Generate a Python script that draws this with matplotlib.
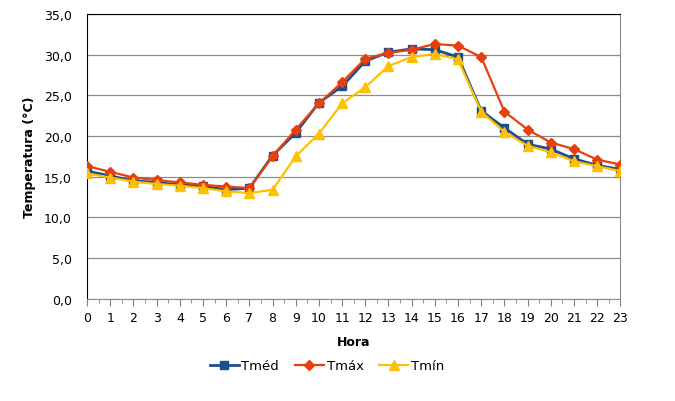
import matplotlib.pyplot as plt
import numpy as np

# hourly temperatures
horas = list(range(24))
tmed = [15.7, 15.1, 14.5, 14.3, 14.0, 13.85, 13.4, 13.6, 17.6, 20.4, 24.1, 26.1,
        29.2, 30.3, 30.7, 30.6, 29.7, 23.1, 21.0, 19.0, 18.4, 17.2, 16.4, 15.9]
tmax = [16.3, 15.6, 14.9, 14.6, 14.3, 14.0, 13.8, 13.6, 17.5, 20.8, 24.0, 26.6,
        29.5, 30.2, 30.6, 31.3, 31.1, 29.7, 23.0, 20.8, 19.2, 18.4, 17.1, 16.5]
tmin = [15.4, 14.9, 14.4, 14.1, 13.9, 13.6, 13.2, 13.0, 13.4, 17.5, 20.3, 24.0,
        26.0, 28.6, 29.7, 30.1, 29.4, 23.0, 20.5, 18.8, 18.0, 16.9, 16.3, 15.7]

plt.rcParams['font.family'] = ['DejaVu Sans']

fig = plt.figure(figsize=(6.75, 4.02), dpi=100)
ax = fig.add_axes([0.129, 0.254, 0.79, 0.709])

ax.plot(horas, tmed, color='#1F4E8C', marker='s', markersize=5.5, linewidth=2, label='Tméd', zorder=3)
ax.plot(horas, tmax, color='#E8400C', marker='D', markersize=5.5, linewidth=1.6, label='Tmáx', zorder=4)
ax.plot(horas, tmin, color='#FFC000', marker='^', markersize=6.5, linewidth=1.6, label='Tmín', zorder=5)

ax.set_xlim(0, 23)
ax.set_ylim(0, 35)
ax.set_yticks(np.arange(0, 36, 5))
ax.set_yticklabels([f'{v:.1f}'.replace('.', ',') for v in np.arange(0, 36, 5)], fontsize=9)
ax.set_xticks(horas)
ax.set_xticklabels([str(h) for h in horas], fontsize=9)
ax.set_xticks(np.arange(0.5, 23, 1), minor=True)
ax.tick_params(axis='x', which='major', length=5, color='#808080')
ax.tick_params(axis='x', which='minor', length=3, color='#808080')
ax.tick_params(axis='y', length=0, pad=11)
ax.grid(axis='y', color='#8C8C8C', linewidth=0.9)
ax.set_axisbelow(True)

for s in ['left', 'top']:
    ax.spines[s].set_color('black')
ax.spines['right'].set_color('#8C8C8C')
ax.spines['bottom'].set_color('#8C8C8C')

ax.set_xlabel('Hora', fontsize=9, fontweight='bold', labelpad=8)
ax.set_ylabel('Temperatura (°C)', fontsize=9, fontweight='bold', labelpad=6)

ax.legend(loc='upper center', bbox_to_anchor=(0.45, -0.17), ncol=3, frameon=False,
          fontsize=9.5, handlelength=2.2, columnspacing=1.2, handletextpad=0.2)

fig.savefig('out.png', dpi=100)
